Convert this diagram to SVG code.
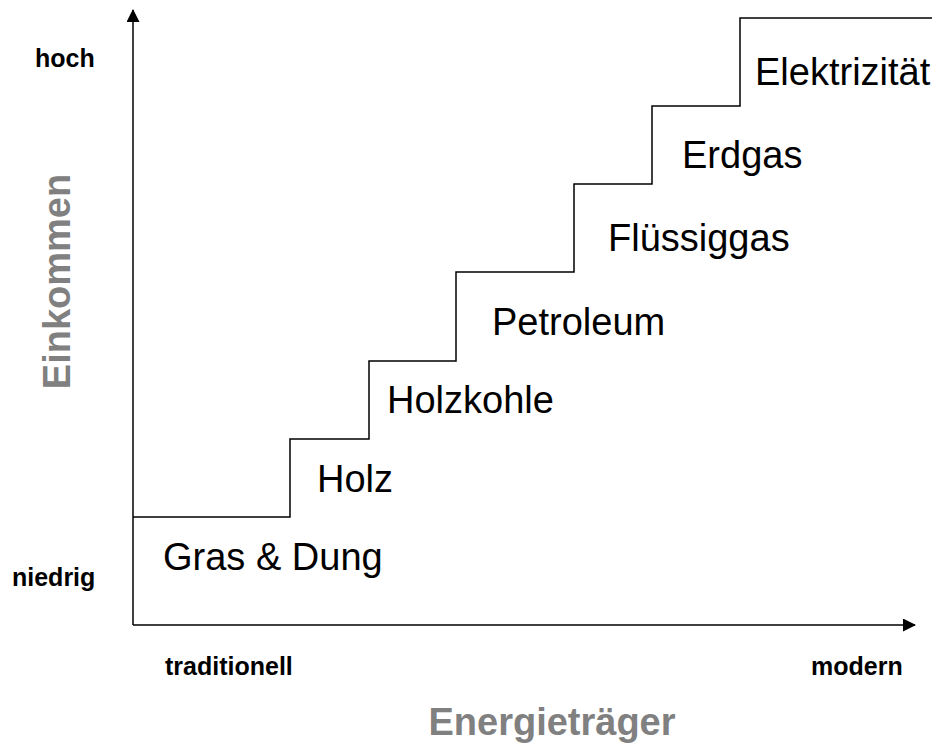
<svg xmlns="http://www.w3.org/2000/svg" width="941" height="745" viewBox="0 0 941 745">
<style>
.ax{stroke:#000;stroke-width:1.5;fill:none}
.st{stroke:#000;stroke-width:1.5;fill:none}
.lbl{font-family:"Liberation Sans",Arial,sans-serif;font-size:38px;fill:#000}
.sm{font-family:"Liberation Sans",Arial,sans-serif;font-size:25px;font-weight:bold;fill:#000}
.ttl{font-family:"Liberation Sans",Arial,sans-serif;font-size:38px;font-weight:bold;fill:#808080}
</style>
<defs>
<marker id="arr" markerWidth="13" markerHeight="13" refX="12" refY="6.5" orient="auto" markerUnits="userSpaceOnUse">
<path d="M0,0 L13,6.5 L0,13 Z" fill="#000"/>
</marker>
</defs>
<rect width="941" height="745" fill="#fff"/>
<g id="connectors">
<line class="ax" x1="133" y1="625" x2="133" y2="10" marker-end="url(#arr)"/>
<line class="ax" x1="133" y1="625" x2="915" y2="625" marker-end="url(#arr)"/>
<path class="st" d="M133,517 H290 V439 H369 V361 H456 V272 H574 V184 H652 V106 H740 V18 H932"/>
</g>
<g id="axis-labels">
<text class="sm" x="35" y="67">hoch</text>
<text class="sm" x="12" y="586">niedrig</text>
<text class="sm" x="165" y="675">traditionell</text>
<text class="sm" x="811" y="675">modern</text>
<text class="ttl" x="552" y="735" text-anchor="middle">Energieträger</text>
<text class="ttl" transform="translate(70,281.5) rotate(-90)" text-anchor="middle">Einkommen</text>
</g>
<g id="node-gras"><text class="lbl" x="163" y="570">Gras &amp; Dung</text></g>
<g id="node-holz"><text class="lbl" x="317" y="492">Holz</text></g>
<g id="node-holzkohle"><text class="lbl" x="387" y="413">Holzkohle</text></g>
<g id="node-petroleum"><text class="lbl" x="492" y="335">Petroleum</text></g>
<g id="node-fluessiggas"><text class="lbl" x="608" y="251">Flüssiggas</text></g>
<g id="node-erdgas"><text class="lbl" x="682" y="168">Erdgas</text></g>
<g id="node-elektrizitaet"><text class="lbl" x="755" y="85">Elektrizität</text></g>
</svg>
